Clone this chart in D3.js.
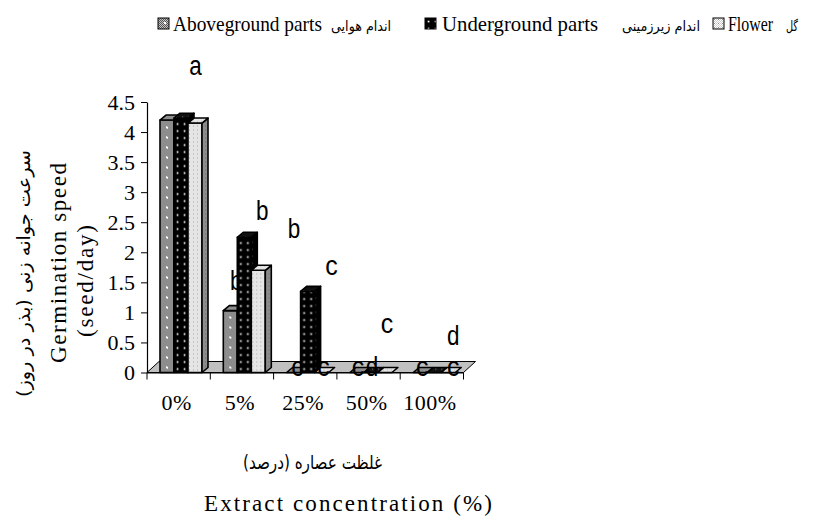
<!DOCTYPE html>
<html><head><meta charset="utf-8">
<script src="https://cdn.jsdelivr.net/npm/d3@7"></script>
<style>body{margin:0;background:#fff}</style>
</head><body><svg id="c" width="817" height="521"></svg>
<script>
// ---------------- data ----------------
const categories = ["0%", "5%", "25%", "50%", "100%"];
const seriesNames = ["Aboveground parts", "Underground parts", "Flower"];
const seriesPersian = ["اندام هوایی", "اندام زیرزمینی", "گل"];
const aboveground = [4.2, 1.03, 0, 0, 0];
const underground = [4.23, 2.25, 1.35, 0, 0];
const flower = [4.15, 1.7, 0, 0, 0];
const yTicks = [0, 0.5, 1, 1.5, 2, 2.5, 3, 3.5, 4, 4.5];
const yTickLabels = ["0", "0.5", "1", "1.5", "2", "2.5", "3", "3.5", "4", "4.5"];
// significance letters: text, category, series index, height (data units)
const labelText = ["a", "b", "b", "b", "c", "c", "c", "c", "c", "d", "d", "c", "c"];
const labelCat = ["0%", "5%", "5%", "25%", "25%", "25%", "25%", "50%", "50%", "50%", "100%", "100%", "100%"];
const labelSeries = [2, 0, 2, 0, 2, 0, 2, 2, 0, 1, 2, 0, 2];
const labelAt = [4.95, 1.37, 2.54, 2.24, 1.62, -0.05, -0.05, 0.66, -0.05, -0.05, 0.46, -0.05, -0.05];
const yTitleEn = ["Germination speed", "(seed/day)"];
const yTitleFa = "سرعت جوانه زنی (بذر در روز)";
const xTitleEn = "Extract concentration (%)";
const xTitleFa = "غلظت عصاره (درصد)";

// ---------------- layout ----------------
const labelNudge = [0.5, 6, 4, 0.5, 10, 4, 2, 2, 1, 1, 5, 2, 5];
const W = 817, H = 521;
const serif = "'Liberation Serif','Times New Roman',serif";
const sans = "'Liberation Sans',Arial,sans-serif";
const fa = "'DejaVu Sans',sans-serif";
const values = [aboveground, underground, flower];
const svg = d3.select("#c");
svg.append("rect").attr("width", W).attr("height", H).attr("fill", "#fff");
const defs = svg.append("defs");

function pat(id, w, h) {
  return defs.append("pattern").attr("id", id).attr("patternUnits", "userSpaceOnUse")
    .attr("width", w).attr("height", h);
}
function checker(id, c1, c2) {
  const p = pat(id, 2, 2);
  p.append("rect").attr("width", 2).attr("height", 2).attr("fill", c1);
  p.append("rect").attr("width", 1).attr("height", 1).attr("fill", c2);
  p.append("rect").attr("x", 1).attr("y", 1).attr("width", 1).attr("height", 1).attr("fill", c2);
}
checker("chkAbv", "#c4c4c4", "#555555");
checker("chkAbvDark", "#848484", "#2a2a2a");
checker("chkFl", "#ffffff", "#cbcbcb");
checker("chkFlDark", "#b0b0b0", "#686868");
function dotted(id, w, h, base, dotColor, dots, ds) {
  const p = pat(id, w, h);
  p.append("rect").attr("width", w).attr("height", h).attr("fill", base);
  dots.forEach(d => p.append("rect").attr("x", d[0]).attr("y", d[1]).attr("width", ds).attr("height", ds).attr("fill", dotColor));
}
dotted("abvFront", 14, 10, "url(#chkAbv)", "#fff", [[6, 4]], 2);
dotted("abvSide", 6, 6, "url(#chkAbvDark)", "#777", [], 1);
dotted("abvTop", 6, 6, "url(#chkAbv)", "#fff", [], 1);
dotted("undFront", 7, 7, "#000", "#fff", [[2.7, 2.7]], 1.7);
dotted("undSide", 6, 7, "#000", "#666", [[2, 2]], 1.3);
dotted("undTop", 6, 6, "#111", "#777", [[2, 2]], 1.2);
dotted("flFront", 4, 4, "url(#chkFl)", "#8a8a8a", [[1, 1]], 1);
dotted("flSide", 4, 4, "url(#chkFlDark)", "#444", [[1, 1]], 1);
dotted("flTop", 4, 4, "url(#chkFl)", "#999", [[1, 1]], 1);
const fills = [
  {front: "url(#abvFront)", side: "url(#abvSide)", top: "url(#abvTop)"},
  {front: "url(#undFront)", side: "url(#undSide)", top: "url(#undTop)"},
  {front: "url(#flFront)", side: "url(#flSide)", top: "url(#flTop)"}
];

// scales
const y = d3.scaleLinear().domain([0, 4.5]).range([372.5, 102]);
const x = d3.scaleBand().domain(categories).range([147, 463.5]);
const xs = d3.scaleBand().domain(d3.range(seriesNames.length)).range([13, 55]);
const bw = xs.bandwidth();
const dX = 6, dY = -5;       // bar depth
const fX = 12, fY = -11;     // floor depth
const y0 = y(0);

// floor
const [fx0, fx1] = x.range();
svg.append("polygon")
  .attr("points", [[fx0, y0], [fx1, y0], [fx1 + fX, y0 + fY], [fx0 + fX, y0 + fY]].map(p => p.join(",")).join(" "))
  .attr("fill", "#c0c0c0").attr("stroke", "#000").attr("stroke-width", 1);

// y axis
const ya = svg.append("g").attr("transform", `translate(${fx0},0)`)
  .call(d3.axisLeft(y).tickValues(yTicks).tickFormat((d, i) => yTickLabels[i]).tickSize(6).tickSizeOuter(0).tickPadding(6));
ya.select(".domain").attr("stroke", "#000").attr("stroke-width", 1.2);
ya.selectAll(".tick line").attr("stroke", "#000");
ya.selectAll("text").attr("font-family", serif).attr("font-size", 22).attr("fill", "#000");

// x axis
svg.append("line").attr("x1", fx0).attr("x2", fx1).attr("y1", y0 + 0.5).attr("y2", y0 + 0.5)
  .attr("stroke", "#000").attr("stroke-width", 1.2);
const bounds = categories.map(c => x(c)).concat([fx1]);
svg.selectAll("line.xt").data(bounds).join("line").attr("class", "xt")
  .attr("x1", d => d).attr("x2", d => d).attr("y1", y0).attr("y2", y0 + 7)
  .attr("stroke", "#000").attr("stroke-width", 1);
svg.selectAll("text.xl").data(categories).join("text").attr("class", "xl")
  .attr("x", d => x(d) + x.bandwidth() / 2 - 2).attr("y", 410)
  .attr("text-anchor", "middle").attr("font-family", serif).attr("font-size", 22)
  .attr("letter-spacing", 0.5).text(d => d);

// bars + letters, series by series
function pts(a) { return a.map(p => p.join(",")).join(" "); }
values.forEach((vals, s) => {
  const f = fills[s];
  categories.forEach((c, i) => {
    const v = vals[i];
    const h = y0 - y(v);
    const g = svg.append("g").attr("transform", `translate(${x(c) + xs(s)},${y0})`)
      .attr("stroke", "#000").attr("stroke-width", 1.6).attr("stroke-linejoin", "round");
    if (h > 0) {
      g.append("rect").attr("x", 0).attr("y", -h).attr("width", bw).attr("height", h).attr("fill", f.front);
      g.append("polygon").attr("points", pts([[bw, 0], [bw + dX, dY], [bw + dX, -h + dY], [bw, -h]])).attr("fill", f.side);
    }
    g.append("polygon").attr("points", pts([[0, -h], [dX, -h + dY], [bw + dX, -h + dY], [bw, -h]])).attr("fill", f.top);
  });
  labelText.forEach((t, k) => {
    if (labelSeries[k] !== s) return;
    svg.append("text")
      .attr("x", x(labelCat[k]) + xs(s) + bw / 2 + labelNudge[k])
      .attr("y", y(labelAt[k]))
      .attr("text-anchor", "middle").attr("font-family", sans).attr("font-size", 27)
      .attr("textLength", 12.5).attr("lengthAdjust", "spacingAndGlyphs")
      .text(t);
  });
});

// legend
const legSw = [158, 425, 713];
const legEn = [[173, 149], [442, 156], [728, 45]];
const legFa = [[361, 60], [661, 78], [792, 12]];
seriesNames.forEach((n, s) => {
  const g = svg.append("g").attr("transform", `translate(${legSw[s]},18)`);
  g.append("rect").attr("width", 11).attr("height", 11).attr("fill", fills[s].front)
    .attr("stroke", "#000").attr("stroke-width", 1);
  svg.append("text").attr("x", legEn[s][0]).attr("y", 31).attr("font-family", serif).attr("font-size", 21)
    .attr("textLength", legEn[s][1]).attr("lengthAdjust", "spacingAndGlyphs").text(n);
  svg.append("text").attr("x", legFa[s][0]).attr("y", 31).attr("text-anchor", "middle")
    .attr("font-family", fa).attr("font-size", 14)
    .attr("textLength", legFa[s][1]).attr("lengthAdjust", "spacingAndGlyphs").text(seriesPersian[s]);
});

// axis titles
svg.append("text").attr("transform", "translate(30,273.5) rotate(-90)").attr("text-anchor", "middle")
  .attr("font-family", fa).attr("font-size", 18).attr("textLength", 247).attr("lengthAdjust", "spacingAndGlyphs")
  .text(yTitleFa);
svg.append("text").attr("transform", "translate(66,263) rotate(-90)").attr("text-anchor", "middle")
  .attr("font-family", serif).attr("font-size", 23).attr("textLength", 200).text(yTitleEn[0]);
svg.append("text").attr("transform", "translate(93,281) rotate(-90)").attr("text-anchor", "middle")
  .attr("font-family", serif).attr("font-size", 23).attr("textLength", 112).text(yTitleEn[1]);
svg.append("text").attr("x", 312.5).attr("y", 469).attr("text-anchor", "middle")
  .attr("font-family", fa).attr("font-size", 19).attr("textLength", 139).attr("lengthAdjust", "spacingAndGlyphs")
  .text(xTitleFa);
svg.append("text").attr("x", 348).attr("y", 511).attr("text-anchor", "middle")
  .attr("font-family", serif).attr("font-size", 23).attr("textLength", 288).text(xTitleEn);
</script></body></html>
